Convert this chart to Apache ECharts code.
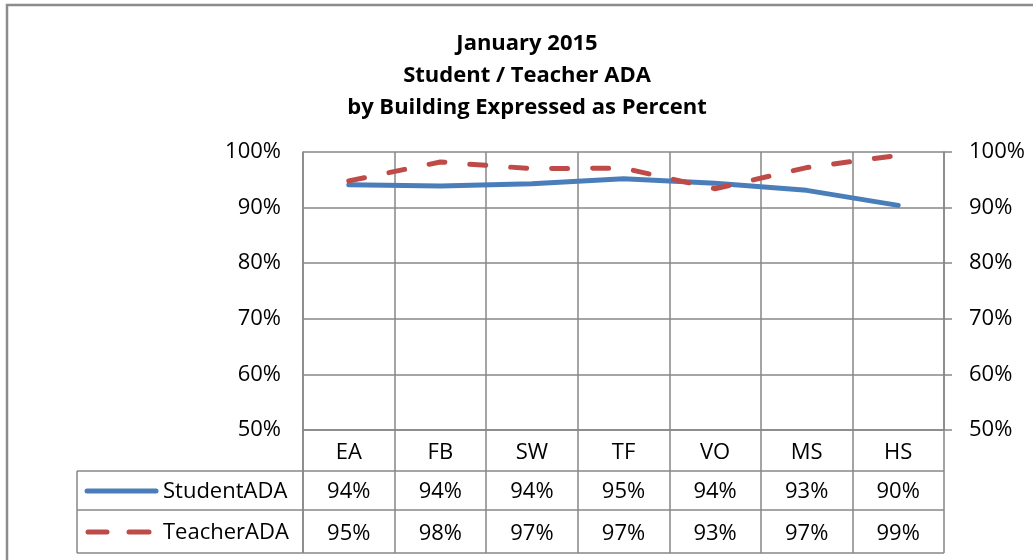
<!DOCTYPE html>
<html><head><meta charset="utf-8">
<script src="https://cdn.jsdelivr.net/npm/echarts@6/dist/echarts.min.js"></script>
<style>html,body{margin:0;padding:0;background:#fff}#c{width:1033px;height:560px}</style>
</head><body><div id="c"></div>
<script>
const categories = ['EA','FB','SW','TF','VO','MS','HS'];
const studentADA = [94.1, 93.9, 94.3, 95.2, 94.4, 93.1, 90.4];
const teacherADA = [94.8, 98.2, 97.0, 97.1, 93.4, 97.2, 99.4];
const seriesNames = ['StudentADA','TeacherADA'];
const yTicks = [50, 60, 70, 80, 90, 100];

const FONT = '"Open Sans", sans-serif';
const GRID = '#878787';
const BLUE = '#4A7EBB';
const RED = '#BE4B48';
const FS = 22;
const pct = v => Math.round(v) + '%';

const chart = echarts.init(document.getElementById('c'));
const gl = 303, gr = 944, gt = 152, gb = 430;
chart.setOption({
  animation: false,
  backgroundColor: '#fff',
  title: {
    text: 'January 2015\nStudent / Teacher ADA\nby Building Expressed as Percent',
    left: 522, top: 23, textAlign: 'center',
    textStyle: { fontFamily: FONT, fontWeight: 'bold', fontSize: 22, lineHeight: 32, color: '#000' }
  },
  grid: { left: gl, right: 1033 - gr, top: gt, bottom: 560 - gb },
  xAxis: [
    { type: 'category', data: categories, boundaryGap: true, position: 'bottom',
      axisLine: { lineStyle: { color: GRID, width: 1.5 } },
      axisTick: { show: true, length: 123, lineStyle: { color: GRID, width: 1.5 } },
      splitLine: { show: true, lineStyle: { color: GRID, width: 1.5 } },
      axisLabel: { margin: 12, fontFamily: FONT, fontSize: FS, color: '#000' } },
    { type: 'category', data: studentADA.map(pct), boundaryGap: true, position: 'bottom', offset: 41,
      axisLine: { show: false }, axisTick: { show: false }, splitLine: { show: false },
      axisLabel: { margin: 10, fontFamily: FONT, fontSize: FS, color: '#000' } },
    { type: 'category', data: teacherADA.map(pct), boundaryGap: true, position: 'bottom', offset: 80,
      axisLine: { show: false }, axisTick: { show: false }, splitLine: { show: false },
      axisLabel: { margin: 13, fontFamily: FONT, fontSize: FS, color: '#000' } }
  ],
  yAxis: [
    { type: 'value', min: yTicks[0], max: yTicks[yTicks.length - 1], interval: 10, position: 'left',
      axisLine: { show: true, lineStyle: { color: GRID, width: 1.5 } }, axisTick: { show: false },
      splitLine: { show: true, lineStyle: { color: GRID, width: 1.5 } },
      axisLabel: { formatter: '{value}%', margin: 22, fontFamily: FONT, fontSize: FS, color: '#000' } },
    { type: 'value', min: yTicks[0], max: yTicks[yTicks.length - 1], interval: 10, position: 'right',
      axisLine: { show: true, lineStyle: { color: GRID, width: 1.5 } },
      axisTick: { show: true, length: 8, lineStyle: { color: GRID, width: 1.5 } },
      splitLine: { show: false },
      axisLabel: { formatter: '{value}%', margin: 25, fontFamily: FONT, fontSize: FS, color: '#000' } }
  ],
  series: [
    { name: seriesNames[0], type: 'line', data: studentADA, showSymbol: false, symbol: 'none',
      lineStyle: { color: BLUE, width: 5, cap: 'round', join: 'round' }, z: 3 },
    { name: seriesNames[1], type: 'line', data: teacherADA, showSymbol: false, symbol: 'none',
      lineStyle: { color: RED, width: 5, type: [16, 25], cap: 'round', join: 'round' }, z: 4 }
  ],
  graphic: [
    { type: 'rect', shape: { x: 7, y: 5, width: 1040, height: 570 }, style: { fill: 'none', stroke: '#8c8c8c', lineWidth: 2.5 }, silent: true },
    { type: 'line', shape: { x1: 77, y1: 471, x2: gr, y2: 471 }, style: { stroke: GRID, lineWidth: 1.5 } },
    { type: 'line', shape: { x1: 77, y1: 510, x2: gr, y2: 510 }, style: { stroke: GRID, lineWidth: 1.5 } },
    { type: 'line', shape: { x1: 77, y1: 553, x2: gr, y2: 553 }, style: { stroke: GRID, lineWidth: 1.5 } },
    { type: 'line', shape: { x1: 77, y1: 471, x2: 77, y2: 553 }, style: { stroke: GRID, lineWidth: 1.5 } },
    { type: 'line', shape: { x1: gl, y1: gb, x2: gl, y2: 553 }, style: { stroke: GRID, lineWidth: 1.5 } },
    { type: 'line', shape: { x1: 87, y1: 491, x2: 156, y2: 491 }, style: { stroke: BLUE, lineWidth: 5, lineCap: 'round' } },
    { type: 'line', shape: { x1: 88, y1: 532, x2: 107, y2: 532 }, style: { stroke: RED, lineWidth: 5, lineCap: 'round' } },
    { type: 'line', shape: { x1: 129, y1: 532, x2: 149, y2: 532 }, style: { stroke: RED, lineWidth: 5, lineCap: 'round' } },
    { type: 'text', x: 163, y: 492, style: { text: seriesNames[0], fontFamily: FONT, fontSize: FS, fill: '#000', textVerticalAlign: 'middle', verticalAlign: 'middle' } },
    { type: 'text', x: 163, y: 533, style: { text: seriesNames[1], fontFamily: FONT, fontSize: FS, fill: '#000', textVerticalAlign: 'middle', verticalAlign: 'middle' } }
  ]
});
</script></body></html>
